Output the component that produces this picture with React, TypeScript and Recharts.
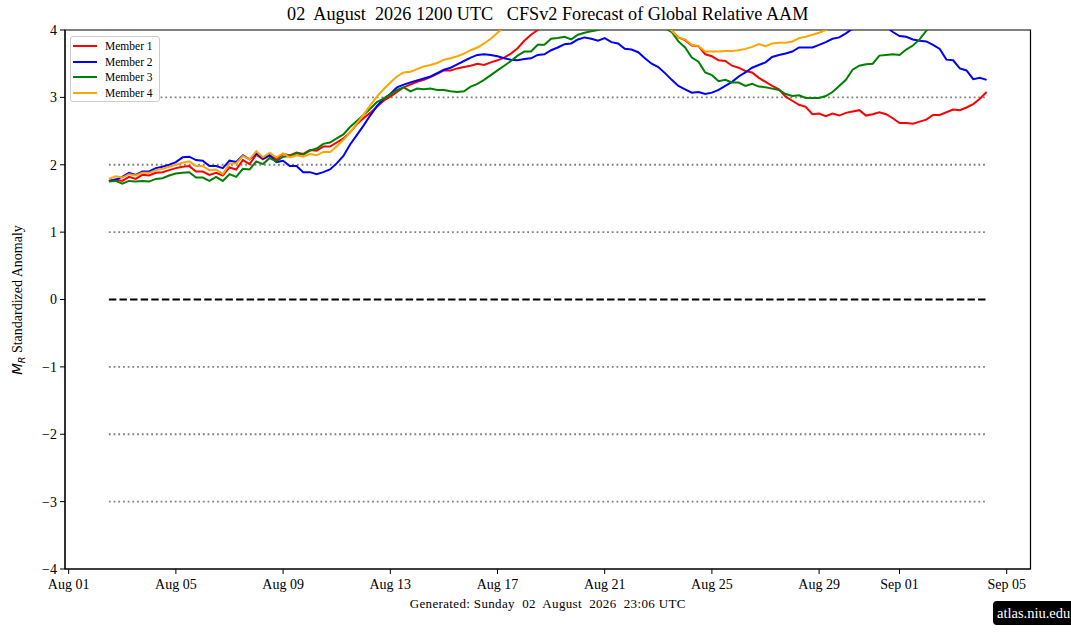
import React from "react";
import { LineChart, Line, XAxis, YAxis, ReferenceLine, ReferenceArea, Legend } from "recharts";

// 6-hourly forecast steps, counted in days after Aug 01 00Z (first step Aug 02 12Z)
const START_DAY = 1.5;
const STEP_DAYS = 0.25;

const member1 = [
  1.76, 1.78,
  1.76, 1.82, 1.79, 1.85, 1.84, 1.88, 1.89, 1.92, 1.95, 1.97, 1.98, 1.9,
  1.9, 1.85, 1.88, 1.84, 1.96, 1.93, 2.07, 2.01, 2.15, 2.08, 2.14, 2.08,
  2.16, 2.14, 2.18, 2.16, 2.22, 2.21, 2.27, 2.27, 2.33, 2.39, 2.48, 2.6,
  2.69, 2.77, 2.86, 2.95, 3.01, 3.08, 3.15, 3.19, 3.23, 3.26, 3.3, 3.35,
  3.4, 3.4, 3.43, 3.45, 3.47, 3.5, 3.48, 3.52, 3.55, 3.59, 3.65, 3.73,
  3.84, 3.93, 4.0, 4.07, 4.13, 4.18, 4.22, 4.25, 4.28, 4.3, 4.3, 4.32,
  4.3, 4.3, 4.28, 4.25, 4.22, 4.2, 4.18, 4.15, 4.1, 4.05, 3.99, 3.89,
  3.85, 3.77, 3.76, 3.64, 3.61, 3.55, 3.54, 3.47, 3.44, 3.39, 3.37, 3.29,
  3.23, 3.17, 3.12, 3.01, 2.95, 2.89, 2.86, 2.75, 2.76, 2.72, 2.76, 2.73,
  2.77, 2.79, 2.81, 2.73, 2.75, 2.78, 2.75, 2.69, 2.62, 2.62, 2.61, 2.64,
  2.67, 2.74, 2.74, 2.78, 2.82, 2.81, 2.85, 2.9,
  2.98, 3.08,
];

const member2 = [
  1.76, 1.78,
  1.82, 1.88, 1.85, 1.9, 1.9, 1.95, 1.97, 2.0, 2.04, 2.11, 2.12, 2.07,
  2.06, 1.98, 1.98, 1.95, 2.06, 2.04, 2.14, 2.08, 2.17, 2.09, 2.14, 2.04,
  2.06, 1.98, 1.98, 1.89, 1.89, 1.86, 1.89, 1.93, 2.02, 2.13, 2.3, 2.44,
  2.58, 2.73, 2.87, 2.98, 3.05, 3.15, 3.19, 3.22, 3.25, 3.28, 3.31, 3.36,
  3.41, 3.44, 3.49, 3.54, 3.59, 3.63, 3.64, 3.63, 3.61, 3.58, 3.56, 3.55,
  3.57, 3.58, 3.63, 3.64, 3.7, 3.74, 3.79, 3.8, 3.86, 3.89, 3.87, 3.84,
  3.88, 3.82, 3.8, 3.72, 3.71, 3.67, 3.58, 3.5, 3.45, 3.36, 3.26, 3.17,
  3.12, 3.07, 3.08, 3.05, 3.07, 3.11, 3.17, 3.23, 3.31, 3.37, 3.44, 3.48,
  3.52, 3.6, 3.63, 3.65, 3.68, 3.74, 3.74, 3.74, 3.78, 3.82, 3.87, 3.89,
  3.95, 4.02, 4.08, 4.12, 4.13, 4.1, 4.05, 3.97, 3.91, 3.9, 3.86, 3.84,
  3.83, 3.78, 3.72, 3.56, 3.55, 3.43, 3.4, 3.27,
  3.29, 3.26,
];

const member3 = [
  1.75, 1.76,
  1.72, 1.76, 1.75, 1.76, 1.75, 1.79, 1.8, 1.84, 1.87, 1.88, 1.89, 1.81,
  1.81, 1.76, 1.82, 1.76, 1.86, 1.82, 1.94, 1.93, 2.05, 2.01, 2.1, 2.05,
  2.12, 2.13, 2.17, 2.15, 2.21, 2.24, 2.31, 2.33, 2.39, 2.45, 2.56, 2.65,
  2.74, 2.83, 2.93, 2.98, 3.04, 3.11, 3.15, 3.09, 3.13, 3.12, 3.13, 3.11,
  3.11, 3.09, 3.08, 3.09, 3.16, 3.2, 3.26, 3.33, 3.4, 3.47, 3.54, 3.62,
  3.68, 3.68, 3.78, 3.78, 3.87, 3.88, 3.9, 3.86, 3.93, 3.96, 3.98, 4.0,
  4.03, 4.06, 4.08, 4.1, 4.12, 4.13, 4.12, 4.1, 4.07, 4.03, 3.97, 3.83,
  3.74, 3.59, 3.53, 3.37, 3.33, 3.24, 3.26, 3.22, 3.22, 3.17, 3.2, 3.16,
  3.15, 3.13, 3.11, 3.05, 3.02, 3.03, 2.99, 2.99, 2.99, 3.02, 3.08, 3.17,
  3.26, 3.41, 3.47, 3.49, 3.5, 3.62, 3.63, 3.64, 3.63, 3.71, 3.77, 3.86,
  3.99, 4.08, 4.15, 4.22, 4.28, 4.33, 4.38, 4.42,
  4.45, 4.48,
];

const member4 = [
  1.79, 1.83,
  1.81, 1.86, 1.84, 1.88, 1.88, 1.92, 1.94, 1.97, 2.0, 2.03, 2.05, 1.98,
  1.98, 1.92, 1.93, 1.86, 2.02, 2.02, 2.13, 2.08, 2.2, 2.11, 2.18, 2.11,
  2.17, 2.11, 2.14, 2.12, 2.16, 2.14, 2.19, 2.19, 2.27, 2.37, 2.48, 2.61,
  2.74, 2.88, 3.01, 3.12, 3.22, 3.31, 3.37, 3.38, 3.42, 3.46, 3.48, 3.51,
  3.56, 3.58, 3.61, 3.65, 3.7, 3.74, 3.8, 3.87, 3.96, 4.04, 4.1, 4.16,
  4.22, 4.27, 4.3, 4.33, 4.36, 4.38, 4.4, 4.41, 4.42, 4.42, 4.41, 4.4,
  4.39, 4.38, 4.37, 4.35, 4.33, 4.3, 4.27, 4.25, 4.18, 4.08, 3.99, 3.89,
  3.86, 3.78, 3.76, 3.68, 3.68, 3.68, 3.69, 3.69, 3.7, 3.72, 3.75, 3.79,
  3.76, 3.8, 3.81, 3.81, 3.83, 3.88, 3.9, 3.93, 3.96, 4.0, 4.03, 4.06,
  4.1, 4.13, 4.16, 4.19, 4.22, 4.25, 4.28, 4.3, 4.32, 4.34, 4.36, 4.38,
  4.4, 4.42, 4.44, 4.45, 4.46, 4.47, 4.48, 4.49,
  4.5, 4.5,
];

const members = [
  { key: "m1", name: "Member 1", color: "#ff0000", values: member1 },
  { key: "m2", name: "Member 2", color: "#0000ff", values: member2 },
  { key: "m3", name: "Member 3", color: "#008000", values: member3 },
  { key: "m4", name: "Member 4", color: "#ffa500", values: member4 },
];

const xTickDays = [0, 4, 8, 12, 16, 20, 24, 28, 31, 35];
const xTickLabels = ["Aug 01", "Aug 05", "Aug 09", "Aug 13", "Aug 17", "Aug 21", "Aug 25", "Aug 29", "Sep 01", "Sep 05"];
const yTicks = [-4, -3, -2, -1, 0, 1, 2, 3, 4];
const dottedLevels = [-3, -2, -1, 1, 2, 3];

const titleText = "02  August  2026 1200 UTC   CFSv2 Forecast of Global Relative AAM";
const footerText = "Generated: Sunday  02  August  2026  23:06 UTC";
const badgeText = "atlas.niu.edu";

const data = member1.map((_, i) => {
  const row: Record<string, number> = { t: START_DAY + i * STEP_DAYS };
  members.forEach((m) => {
    row[m.key] = m.values[i];
  });
  return row;
});

const firstDay = data[0].t;
const lastDay = data[data.length - 1].t;
const pad = (lastDay - firstDay) * 0.05;
const xDomain = [firstDay - pad, lastDay + pad];

const serif = "'Liberation Serif', 'DejaVu Serif', serif";

function LegendBox() {
  return (
    <div
      style={{
        boxSizing: "border-box",
        width: 90,
        height: 66,
        border: "1px solid #cccccc",
        borderRadius: 3,
        background: "#fff",
        padding: "1px 2px",
        fontFamily: serif,
        fontSize: 11.5,
        color: "#000",
      }}
    >
      {members.map((m) => (
        <div key={m.key} style={{ display: "flex", alignItems: "center", height: 15.7 }}>
          <span style={{ display: "inline-block", width: 24, borderTop: `2px solid ${m.color}`, marginRight: 8 }} />
          <span>{m.name}</span>
        </div>
      ))}
    </div>
  );
}

export default function App() {
  return (
    <div style={{ position: "relative", width: 1071, height: 638, background: "#fff", overflow: "hidden" }}>
      <style>{"body{margin:0}"}</style>
      <LineChart width={1071} height={638} data={data} margin={{ top: 30, right: 40.5, bottom: 0, left: 0 }}>
        <XAxis
          type="number"
          dataKey="t"
          domain={xDomain}
          allowDataOverflow
          ticks={xTickDays}
          interval={0}
          tickFormatter={(v) => xTickLabels[xTickDays.indexOf(v)] ?? ""}
          height={69}
          tickSize={5}
          tickMargin={5}
          stroke="#000"
          tick={{ fill: "#000", fontSize: 14, fontFamily: serif }}
        />
        <YAxis
          type="number"
          domain={[-4, 4]}
          allowDataOverflow
          ticks={yTicks}
          interval={0}
          tickFormatter={(v) => (v < 0 ? `\u2212${Math.abs(v)}` : `${v}`)}
          width={65}
          tickSize={5}
          tickMargin={3}
          stroke="#000"
          tick={{ fill: "#000", fontSize: 14, fontFamily: serif }}
        />
        {dottedLevels.map((lv) => (
          <ReferenceLine
            key={lv}
            segment={[{ x: firstDay, y: lv }, { x: lastDay, y: lv }]}
            stroke="#808080"
            strokeWidth={1.8}
            strokeDasharray="1.8 2.9"
          />
        ))}
        <ReferenceLine
          segment={[{ x: firstDay, y: 0 }, { x: lastDay, y: 0 }]}
          stroke="#000"
          strokeWidth={2}
          strokeDasharray="7.4 3.2"
        />
        {members.map((m) => (
          <Line
            key={m.key}
            type="linear"
            dataKey={m.key}
            name={m.name}
            stroke={m.color}
            strokeWidth={2}
            dot={false}
            activeDot={false}
            isAnimationActive={false}
          />
        ))}
        <ReferenceArea
          x1={xDomain[0]}
          x2={xDomain[1]}
          y1={-4}
          y2={4}
          fill="none"
          fillOpacity={0}
          stroke="#000"
          strokeWidth={1.2}
        />
        <Legend
          verticalAlign="middle"
          align="center"
          content={() => <LegendBox />}
          wrapperStyle={{ position: "absolute", left: 70, top: 36, width: 90, height: 66 }}
        />
      </LineChart>
      <div
        style={{
          position: "absolute",
          left: 547.75,
          top: 4,
          transform: "translateX(-50%)",
          whiteSpace: "pre",
          fontFamily: serif,
          fontSize: 18.2,
          color: "#000",
        }}
      >
        {titleText}
      </div>
      <div
        style={{
          position: "absolute",
          left: 18,
          top: 300,
          transform: "translate(-50%, -50%) rotate(-90deg)",
          whiteSpace: "nowrap",
          fontFamily: serif,
          fontSize: 14,
          color: "#000",
        }}
      >
        <i style={{ fontFamily: "'DejaVu Sans', sans-serif", fontSize: 13.5 }}>M</i>
        <sub style={{ fontFamily: "'DejaVu Sans', sans-serif", fontStyle: "italic", fontSize: 9.5 }}>R</sub> Standardized Anomaly
      </div>
      <div
        style={{
          position: "absolute",
          left: 547.75,
          top: 596,
          transform: "translateX(-50%)",
          whiteSpace: "pre",
          fontFamily: serif,
          fontSize: 13,
          letterSpacing: 0.35,
          color: "#000",
        }}
      >
        {footerText}
      </div>
      <div
        style={{
          position: "absolute",
          left: 993,
          top: 601,
          width: 90,
          height: 24,
          boxSizing: "border-box",
          background: "#000",
          borderRadius: 4,
          color: "#fff",
          fontFamily: serif,
          fontSize: 14.5,
          lineHeight: "24px",
          paddingLeft: 4,
          whiteSpace: "nowrap",
        }}
      >
        {badgeText}
      </div>
    </div>
  );
}
